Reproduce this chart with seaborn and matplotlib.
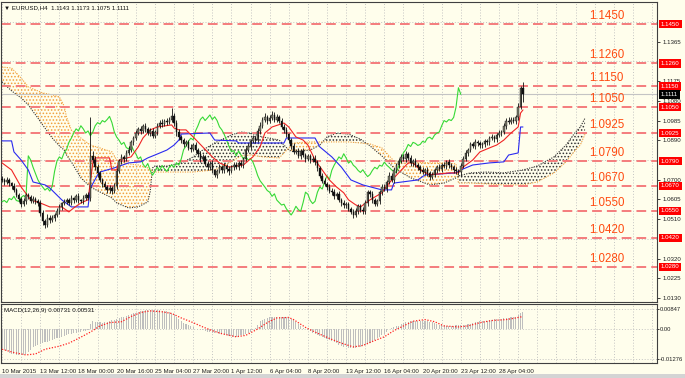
import numpy as np
import matplotlib
matplotlib.use("Agg")
import matplotlib.pyplot as plt
import seaborn as sns

# EURUSD H4, bar 0 = 10 Mar 2015 20:00, last bar = 29 Apr 20:00
# closes in pips above 1.0000, each bar opens at the previous close
first_open = 1.0705
close_pips = [
    700, 690, 697, 682, 672, 650, 628, 605, 585, 598,
    625, 615, 598, 607, 596, 586, 540, 500, 482, 518,
    505, 516, 530, 548, 570, 586, 594, 600, 590, 610,
    604, 620, 600, 596, 614, 624, 612, 815, 795, 760,
    730, 700, 680, 665, 650, 660, 645, 668, 740, 790,
    810, 800, 830, 845, 880, 900, 925, 945, 935, 960,
    945, 925, 935, 912, 930, 960, 975, 968, 985, 978,
    990, 1005, 975, 930, 905, 890, 870, 880, 855, 848,
    868, 842, 825, 800, 810, 775, 760, 778, 745, 722,
    740, 760, 745, 768, 752, 740, 760, 772, 760, 782,
    770, 800, 845, 862, 885, 900, 892, 935, 960, 990,
    1002, 985, 998, 1012, 990, 1003, 985, 955, 940, 918,
    890, 860, 835, 840, 815, 838, 820, 800, 812, 795,
    802, 785, 755, 720, 695, 680, 665, 648, 640, 620,
    632, 602, 590, 578, 582, 560, 545, 530, 548, 572,
    556, 548, 590, 640, 630, 600, 585, 596, 640, 665,
    655, 690, 720, 700, 745, 770, 790, 810, 800, 825,
    805, 780, 790, 770, 760, 745, 735, 748, 730, 715,
    725, 745, 760, 752, 770, 765, 785, 770, 760, 748,
    740, 735, 765, 800, 830, 845, 870, 860, 880, 875,
    865, 870, 885, 880, 900, 905, 895, 915, 925, 930,
    960, 985, 978, 990, 985, 1000, 1050, 1143, 1111,
]
upper_wick = [
    12, 8, 15, 10, 9, 14, 11, 8, 12, 16,
    9, 13, 10, 14, 8, 11, 15, 12, 9, 17,
    10, 12, 8, 14, 11, 9, 13, 10, 12, 15,
    9, 11, 14, 8, 12, 10, 16, 187, 22, 18,
    15, 12, 10, 14, 9, 13, 11, 15, 18, 12,
    14, 10, 13, 16, 12, 9, 15, 11, 14, 10,
    13, 9, 12, 15, 10, 14, 11, 16, 9, 13,
    12, 41, 15, 11, 14, 9, 12, 10, 13, 15,
    11, 14, 9, 12, 16, 10, 13, 11, 15, 9,
    12, 14, 10, 13, 9, 15, 11, 12, 14, 10,
    13, 9, 12, 15, 11, 14, 10, 12, 16, 13,
    18, 11, 14, 20, 12, 15, 10, 13, 11, 14,
    9, 12, 15, 10, 13, 11, 14, 9, 12, 10,
    13, 15, 11, 9, 12, 14, 10, 13, 11, 15,
    9, 12, 10, 14, 11, 13, 9, 12, 15, 10,
    13, 11, 14, 12, 9, 15, 10, 13, 11, 14,
    12, 9, 15, 11, 13, 10, 14, 12, 16, 11,
    9, 13, 11, 14, 10, 12, 15, 9, 13, 11,
    14, 10, 12, 15, 11, 13, 9, 14, 12, 10,
    13, 11, 15, 12, 14, 9, 13, 11, 15, 10,
    12, 14, 10, 13, 11, 15, 9, 12, 14, 10,
    13, 11, 15, 12, 14, 10, 18, 7, 30,
]
lower_wick = [
    10, 14, 9, 12, 15, 11, 13, 10, 16, 12,
    14, 9, 12, 10, 15, 11, 13, 18, 14, 12,
    15, 10, 13, 9, 12, 14, 10, 13, 11, 12,
    14, 10, 12, 9, 13, 11, 10, 14, 16, 12,
    18, 13, 15, 10, 14, 12, 16, 11, 13, 9,
    12, 15, 10, 13, 11, 14, 9, 12, 15, 10,
    14, 11, 13, 9, 12, 15, 10, 13, 11, 14,
    10, 12, 15, 18, 13, 11, 14, 10, 12, 15,
    11, 13, 10, 14, 12, 9, 15, 11, 13, 9,
    12, 10, 14, 11, 13, 15, 10, 12, 9, 14,
    11, 13, 10, 12, 15, 9, 14, 11, 13, 10,
    12, 15, 11, 9, 14, 10, 13, 12, 15, 11,
    14, 10, 13, 12, 9, 15, 11, 14, 10, 13,
    12, 15, 14, 11, 13, 10, 15, 12, 14, 11,
    13, 10, 15, 12, 14, 11, 12, 14, 10, 13,
    11, 14, 12, 15, 13, 10, 12, 14, 11, 13,
    10, 15, 12, 9, 14, 11, 13, 10, 12, 14,
    11, 13, 15, 10, 12, 14, 9, 13, 11, 15,
    12, 10, 14, 11, 13, 9, 15, 12, 10, 14,
    11, 13, 15, 10, 12, 14, 11, 9, 13, 12,
    10, 14, 12, 11, 13, 9, 15, 12, 10, 13,
    11, 14, 12, 10, 13, 15, 12, 8, 36,
]

# Ichimoku lines (bar index, price)
tenkan_bar = [0, 4, 8, 12, 16, 20, 25, 28, 30, 33, 36, 38, 39, 45, 46, 48, 49, 54, 57, 59,
              62, 65, 71, 72, 74, 77, 80, 84, 88, 91, 95, 101, 105, 108, 110, 113, 118, 120, 123, 126,
              128, 131, 134, 137, 140, 143, 145, 148, 150, 154, 159, 162, 166, 170, 172, 175, 179, 187, 191, 193,
              197, 200, 205, 207, 210, 213, 216, 217, 218]
tenkan_val = [1.0781, 1.0747, 1.0665, 1.0603, 1.0588, 1.0569, 1.0569, 1.0545, 1.0564, 1.0588,
              1.0603, 1.0781, 1.0805, 1.0805, 1.0747, 1.0747, 1.0795, 1.0810, 1.0858, 1.0901,
              1.0940, 1.0954, 1.0964, 1.0949, 1.0940, 1.0940, 1.0906, 1.0858, 1.0810, 1.0781,
              1.0761, 1.0771, 1.0810, 1.0858, 1.0925, 1.0954, 1.0973, 1.0954, 1.0906, 1.0891,
              1.0867, 1.0795, 1.0747, 1.0699, 1.0665, 1.0637, 1.0603, 1.0579, 1.0569, 1.0603,
              1.0637, 1.0684, 1.0733, 1.0781, 1.0781, 1.0747, 1.0723, 1.0733, 1.0733, 1.0761,
              1.0795, 1.0834, 1.0858, 1.0867, 1.0891, 1.0925, 1.0954, 1.1021, 1.1036]
kijun_bar = [0, 4, 5, 8, 11, 13, 18, 20, 25, 29, 36, 37, 40, 41, 47, 53, 58, 61, 64, 69,
             72, 74, 75, 87, 89, 98, 99, 118, 119, 131, 133, 138, 142, 146, 151, 159, 163, 164, 174, 177,
             190, 192, 197, 204, 210, 212, 216, 217, 218]
kijun_val = [1.0887, 1.0887, 1.0834, 1.0795, 1.0747, 1.0689, 1.0675, 1.0660, 1.0603, 1.0569,
             1.0569, 1.0660, 1.0723, 1.0737, 1.0757, 1.0781, 1.0786, 1.0805, 1.0819, 1.0843,
             1.0867, 1.0891, 1.0920, 1.0925, 1.0891, 1.0887, 1.0877, 1.0877, 1.0901, 1.0901,
             1.0858, 1.0810, 1.0761, 1.0699, 1.0675, 1.0651, 1.0651, 1.0684, 1.0699, 1.0723,
             1.0733, 1.0747, 1.0771, 1.0781, 1.0786, 1.0819, 1.0829, 1.0954, 1.0954]
cloud_bar = [0, 4, 8, 11, 15, 17, 21, 24, 26, 27, 29, 33, 37, 41, 46, 48, 53, 57, 61, 62,
             63, 64, 69, 75, 80, 84, 89, 96, 100, 104, 109, 116, 120, 122, 129, 133, 136, 140, 145, 150,
             154, 159, 164, 171, 179, 185, 190, 191, 196, 203, 210, 218, 224, 231, 236, 240, 242, 244]
span_a = [1.1171, 1.1128, 1.1094, 1.1060, 1.0997, 1.0964, 1.0901, 1.0863, 1.0843, 1.0819,
          1.0786, 1.0709, 1.0665, 1.0641, 1.0612, 1.0588, 1.0564, 1.0569, 1.0593, 1.0641,
          1.0757, 1.0766, 1.0766, 1.0781, 1.0810, 1.0843, 1.0877, 1.0916, 1.0930, 1.0925,
          1.0906, 1.0891, 1.0843, 1.0834, 1.0843, 1.0867, 1.0906, 1.0925, 1.0920, 1.0896,
          1.0863, 1.0814, 1.0757, 1.0709, 1.0675, 1.0684, 1.0709, 1.0718, 1.0733, 1.0737,
          1.0733, 1.0747, 1.0766, 1.0810, 1.0867, 1.0930, 1.0954, 1.0997]
span_b = [1.1243, 1.1238, 1.1190, 1.1147, 1.1128, 1.1118, 1.1109, 1.1099, 1.1055, 1.1002,
          1.0940, 1.0901, 1.0867, 1.0853, 1.0834, 1.0795, 1.0776, 1.0771, 1.0757, 1.0752,
          1.0742, 1.0737, 1.0737, 1.0737, 1.0737, 1.0742, 1.0747, 1.0786, 1.0815, 1.0819,
          1.0810, 1.0805, 1.0853, 1.0877, 1.0882, 1.0882, 1.0882, 1.0882, 1.0882, 1.0877,
          1.0872, 1.0853, 1.0790, 1.0786, 1.0781, 1.0781, 1.0776, 1.0684, 1.0684, 1.0680,
          1.0675, 1.0675, 1.0689, 1.0733, 1.0786, 1.0843, 1.0867, 1.0920]

# MACD(12,26,9): main line per bar (units of 0.0001), signal read at nodes
macd_hist = [
    -82, -88, -94, -100, -105, -108, -110, -112, -112, -111, -108,
    -98, -88, -78, -72, -67, -63, -60,
    -57, -54, -50, -47, -44, -40, -37, -33,
    -30, -26, -22, -20, -18, -15, -13,
    -11, -9, -7, -6,
    20, 33, 31, 29, 28, 27,
    29, 31, 34, 37, 40, 43, 46, 50, 53,
    57, 61, 64, 67, 70, 73, 75, 77, 79, 80,
    81, 81, 80, 80, 79, 78, 77, 75,
    73, 70, 62, 52, 43, 33,
    26, 20, 15, 11, 9, 2,
    -2, -4, -6, -9, -11, -13, -15, -17, -18, -20,
    -22, -24, -26, -28, -30, -33, -32, -30, -27,
    -24, -20, -16, -13, -5, 5, 18,
    33, 38, 42, 46, 49, 51, 52, 53, 53, 53,
    51, 49, 47, 44, 38, 30, 20, 13, 6, 0,
    -5, -10, -15, -20, -25, -29, -34, -38, -43, -47,
    -52, -56, -61, -66, -73, -76, -78, -80, -80, -80,
    -79, -77, -75, -73, -69, -64, -59, -53,
    -46, -40, -33, -27, -20, -12, 0,
    5, 9, 12, 14, 20, 24, 28, 31, 33,
    34, 35, 36, 36, 36, 36, 34, 31, 28, 24,
    20, 18, 16, 15, 14, 13, 13, 14, 15, 16,
    17, 18, 19, 20, 22, 25, 28, 31, 33,
    34, 35, 36, 38, 40, 41, 42, 43, 44, 45,
    47, 48, 49, 51, 53, 58, 66, 73,
]
signal_bar = [0, 5, 10, 14, 18, 24, 28, 32, 37, 41, 45, 50, 54, 58, 62, 67, 71, 75, 80, 84,
              88, 92, 98, 102, 107, 111, 115, 120, 122, 127, 131, 137, 142, 147, 151, 155, 160, 164, 168, 172,
              177, 181, 185, 191, 195, 200, 205, 211, 215, 218]
signal_val = [-86, -100, -110, -106, -86, -73, -60, -40, -13, 13, 27, 31, 53, 70, 77, 73, 66, 47, 27, 9,
              -7, -20, -33, -27, 0, 27, 47, 49, 40, 7, -13, -40, -60, -76, -70, -53, -33, -7, 13, 33,
              40, 31, 13, 9, 13, 27, 36, 40, 47, 53]

levels = [1.1450, 1.1260, 1.1150, 1.1050, 1.0925, 1.0790, 1.0670, 1.0550, 1.0420, 1.0280]
# price scale ticks; the ones hidden under a level tag are left out
price_ticks = [1.0130, 1.0225, 1.0320, 1.0510, 1.0605, 1.0700,
               1.0890, 1.0985, 1.1080, 1.1175, 1.1365]
grid_ticks = [1.0130, 1.0225, 1.0320, 1.0415, 1.0510, 1.0605, 1.0700, 1.0795,
              1.0890, 1.0985, 1.1080, 1.1175, 1.1270, 1.1365, 1.1460]
last_price = 1.1111
time_labels = ["10 Mar 2015", "13 Mar 12:00", "18 Mar 00:00", "20 Mar 16:00", "25 Mar 04:00",
               "27 Mar 20:00", "1 Apr 12:00", "6 Apr 04:00", "8 Apr 20:00", "13 Apr 12:00",
               "16 Apr 04:00", "20 Apr 20:00", "23 Apr 12:00", "28 Apr 04:00"]
macd_ticks = [0.00847, 0.0, -0.01276]
macd_tick_labels = ["0.00847", "0.00", "-0.01276"]


def main():
    sns.set_style("white")
    plt.rcParams['font.family'] = ['Liberation Sans', 'DejaVu Sans']
    plt.rcParams['hatch.linewidth'] = 0.7

    bg = '#FFFEEC'
    grid_kw = dict(color='#BDBDBD', linestyle=(0, (1.2, 2.2)), linewidth=0.6)
    small = 4.4

    close = 1 + np.array(close_pips) / 10000
    opens = np.r_[first_open, close[:-1]]
    high = np.maximum(opens, close) + np.array(upper_wick) / 10000
    low = np.minimum(opens, close) - np.array(lower_wick) / 10000
    bars = np.arange(len(close))

    fig = plt.figure(figsize=(6.85, 3.78), dpi=100, facecolor=bg)
    ax = fig.add_axes([1 / 685, 1 - 302 / 378, 656 / 685, 300 / 378], facecolor=bg)
    ax2 = fig.add_axes([1 / 685, 1 - 363 / 378, 656 / 685, 59 / 378], facecolor=bg)

    # ---- main price panel ----
    ax.set_xlim(-0.42, 274.1)
    ax.set_ylim(1.0111, 1.1556)
    ax.set_xticks(np.arange(0, 275, 8))
    ax.tick_params(axis='x', length=0, labelbottom=False)
    ax.set_yticks(grid_ticks, minor=True)
    ax.grid(True, axis='x', **grid_kw)
    ax.grid(True, axis='y', which='minor', **grid_kw)
    ax.set_axisbelow(True)

    # cloud
    cx = np.array(cloud_bar)
    a = np.array(span_a)
    b = np.array(span_b)
    ax.fill_between(cx, a, b, where=b >= a, interpolate=True, facecolor='none',
                    edgecolor='#F2A03C', hatch='.....', linewidth=0, zorder=1)
    ax.fill_between(cx, a, b, where=a > b, interpolate=True, facecolor='none',
                    edgecolor='#333333', hatch='.....', linewidth=0, zorder=1)
    ax.plot(cx, a, color='#333333', linestyle=(0, (1, 1.2)), linewidth=0.8, zorder=1.2)
    ax.plot(cx, b, color='#F2A03C', linestyle=(0, (1, 1.2)), linewidth=0.8, zorder=1.2)

    # levels
    for lvl in levels:
        ax.axhline(lvl, color='#F47C7C', linewidth=1.4, linestyle=(0, (5, 2.6)), zorder=1.5)
        ax.text(245.6, lvl + 0.0011, f"{lvl:.4f}", color='#FF4A10', fontsize=8.3,
                ha='left', va='bottom', zorder=6)
    ax.axhline(last_price, color='#C4C4C4', linewidth=0.8, zorder=1.4)

    # ichimoku lines
    sns.lineplot(x=bars[26:] - 26, y=close[26:], color='#36D936', linewidth=0.8,
                 estimator=None, ax=ax, zorder=3)
    sns.lineplot(x=kijun_bar, y=kijun_val, color='#2A2AF0', linewidth=0.8,
                 estimator=None, ax=ax, zorder=3)
    sns.lineplot(x=tenkan_bar, y=tenkan_val, color='#F02424', linewidth=0.8,
                 estimator=None, ax=ax, zorder=3)

    # candles
    up = close >= opens
    ax.vlines(bars, low, high, color='#101010', linewidth=0.6, zorder=4)
    body = np.maximum(np.abs(close - opens), 0.00004)
    ax.bar(bars, body, bottom=np.minimum(opens, close), width=0.62,
           color=np.where(up, '#7C7C6A', '#101010'), edgecolor='#101010',
           linewidth=0.3, zorder=5)

    ax.set_xlabel('')
    ax.set_ylabel('')
    ax.yaxis.tick_right()
    ax.set_yticks(price_ticks)
    ax.set_yticklabels([f"{t:.4f}" for t in price_ticks])
    ax.tick_params(axis='y', which='major', labelsize=small, length=2.5, width=0.6, pad=1.5,
                   colors='#202020', direction='out')
    ax.tick_params(axis='y', which='minor', length=0)

    for lvl in levels:
        ax.text(1.006, lvl, f"{lvl:.4f}", transform=ax.get_yaxis_transform(),
                ha='left', va='center', fontsize=small, color='white', clip_on=False,
                zorder=10, bbox=dict(boxstyle='square,pad=0.3', fc='#FF0000', ec='none'))
    ax.text(1.006, last_price, f"{last_price:.4f}", transform=ax.get_yaxis_transform(),
            ha='left', va='center', fontsize=small, color='white', clip_on=False,
            zorder=10, bbox=dict(boxstyle='square,pad=0.3', fc='#000000', ec='none'))

    ax.text(0.004, 0.988, "\u25bc EURUSD,H4  1.1143 1.1173 1.1075 1.1111",
            transform=ax.transAxes, ha='left', va='top', fontsize=small, color='#101010')

    # ---- MACD panel ----
    ax2.set_xlim(-0.42, 274.1)
    ax2.set_ylim(-0.01444, 0.01062)
    hist = np.array(macd_hist) / 10000
    ax2.bar(np.arange(len(hist)), hist, width=0.45, color='#BEBEBE',
            edgecolor='none', linewidth=0, zorder=2)
    sns.lineplot(x=signal_bar, y=np.array(signal_val) / 10000, color='#FF2020',
                 linewidth=0.9, estimator=None, ax=ax2, zorder=3)
    ax2.lines[-1].set_linestyle((0, (1, 1.3)))
    ax2.set_xlabel('')
    ax2.set_ylabel('')

    ax2.set_xticks(np.arange(0, 16 * len(time_labels), 16))
    ax2.set_xticklabels(time_labels)
    ax2.set_xticks(np.arange(0, 275, 8), minor=True)
    for lbl in ax2.get_xticklabels():
        lbl.set_horizontalalignment('left')
    ax2.tick_params(axis='x', which='major', labelsize=small, length=3, width=0.6,
                    pad=1.5, colors='#202020', direction='out')
    ax2.tick_params(axis='x', which='minor', length=0)
    ax2.yaxis.tick_right()
    ax2.set_yticks(macd_ticks)
    ax2.set_yticklabels(macd_tick_labels)
    ax2.tick_params(axis='y', labelsize=4.2, length=1.5, width=0.6, pad=0.6,
                    colors='#202020', direction='out')
    ax2.grid(True, which='both', axis='x', **grid_kw)
    ax2.grid(True, which='major', axis='y', **grid_kw)
    ax2.set_axisbelow(True)
    ax2.text(0.004, 0.93, "MACD(12,26,9) 0.00731 0.00531", transform=ax2.transAxes,
             ha='left', va='top', fontsize=small, color='#101010')

    for a_ in (ax, ax2):
        for sp in a_.spines.values():
            sp.set_color('#404040')
            sp.set_linewidth(0.8)
            sp.set_visible(True)

    fig.add_artist(plt.Rectangle((0, 0), 1, 4 / 378, transform=fig.transFigure,
                                 facecolor='#D4D4D4', edgecolor='none'))

    fig.savefig('out.png', dpi=100, facecolor=bg)


if __name__ == "__main__":
    main()
